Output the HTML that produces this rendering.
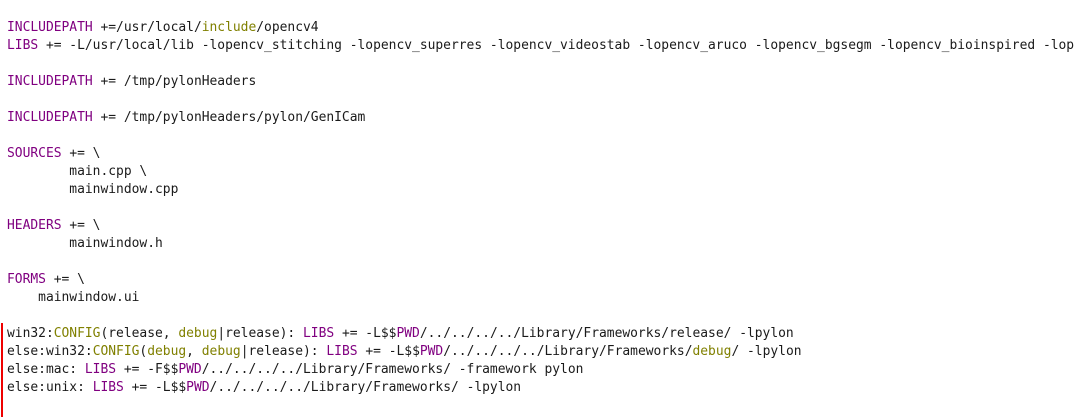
<!DOCTYPE html>
<html><head><meta charset="utf-8"><style>
html,body{margin:0;padding:0;background:#fff;width:1076px;height:417px;overflow:hidden;position:relative}
pre{position:absolute;left:7px;top:19px;margin:0;font-family:"DejaVu Sans Mono","Liberation Mono",monospace;font-size:12.95px;line-height:18px;color:#1a1a1a;white-space:pre}
.k{color:#800080}.o{color:#808000}
.bar{position:absolute;left:1px;top:323px;width:2px;height:94px;background:#e00}
</style></head><body>
<div class="bar"></div>
<pre><span class="k">INCLUDEPATH</span> +=/usr/local/<span class="o">include</span>/opencv4
<span class="k">LIBS</span> += -L/usr/local/lib -lopencv_stitching -lopencv_superres -lopencv_videostab -lopencv_aruco -lopencv_bgsegm -lopencv_bioinspired -lop

<span class="k">INCLUDEPATH</span> += /tmp/pylonHeaders

<span class="k">INCLUDEPATH</span> += /tmp/pylonHeaders/pylon/GenICam

<span class="k">SOURCES</span> += \
        main.cpp \
        mainwindow.cpp

<span class="k">HEADERS</span> += \
        mainwindow.h

<span class="k">FORMS</span> += \
    mainwindow.ui

win32:<span class="o">CONFIG</span>(release, <span class="o">debug</span>|release): <span class="k">LIBS</span> += -L$$<span class="k">PWD</span>/../../../../Library/Frameworks/release/ -lpylon
else:win32:<span class="o">CONFIG</span>(<span class="o">debug</span>, <span class="o">debug</span>|release): <span class="k">LIBS</span> += -L$$<span class="k">PWD</span>/../../../../Library/Frameworks/<span class="o">debug</span>/ -lpylon
else:mac: <span class="k">LIBS</span> += -F$$<span class="k">PWD</span>/../../../../Library/Frameworks/ -framework pylon
else:unix: <span class="k">LIBS</span> += -L$$<span class="k">PWD</span>/../../../../Library/Frameworks/ -lpylon</pre>
</body></html>
